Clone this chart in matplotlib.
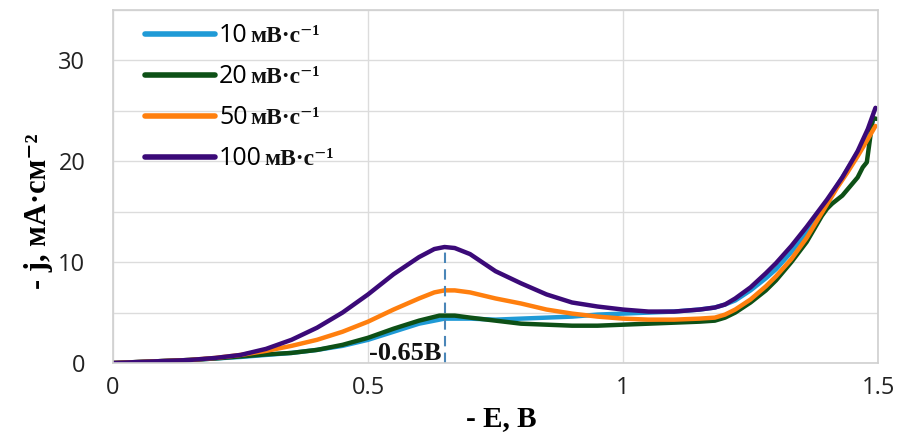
import matplotlib
matplotlib.use("Agg")
import matplotlib.pyplot as plt

# scan rates (legend numbers) and unit suffix
rates = ["10", "20", "50", "100"]
unit = "мВ·с⁻¹"
colors = ["#1f9ad6", "#0d5016", "#ff7f0e", "#3b0a78"]

# 10 mV/s
e_10 = [0, 0.05, 0.1, 0.15, 0.2, 0.25, 0.3, 0.35, 0.4, 0.45, 0.5, 0.55, 0.6, 0.65,
        0.7, 0.75, 0.8, 0.85, 0.9, 0.95, 1.0, 1.05, 1.1, 1.15, 1.18, 1.2, 1.22,
        1.25, 1.28, 1.3, 1.33, 1.36, 1.39, 1.42, 1.45, 1.47, 1.49]
j_10 = [0, 0.1, 0.2, 0.3, 0.45, 0.6, 0.8, 1.0, 1.3, 1.7, 2.3, 3.1, 3.9, 4.4,
        4.4, 4.3, 4.4, 4.5, 4.6, 4.8, 4.9, 5.0, 5.1, 5.3, 5.5, 5.8, 6.2,
        7.2, 8.4, 9.3, 11.0, 13.0, 15.2, 17.6, 20.0, 21.8, 24.0]

# 20 mV/s
e_20 = [0, 0.05, 0.1, 0.15, 0.2, 0.25, 0.3, 0.35, 0.4, 0.45, 0.5, 0.55, 0.6, 0.64,
        0.67, 0.7, 0.75, 0.8, 0.85, 0.9, 0.95, 1.0, 1.05, 1.1, 1.15, 1.18, 1.2,
        1.22, 1.25, 1.28, 1.3, 1.33, 1.36, 1.39, 1.40, 1.41, 1.42, 1.43, 1.44,
        1.45, 1.46, 1.47, 1.478, 1.485, 1.49, 1.497]
j_20 = [0, 0.1, 0.2, 0.3, 0.45, 0.65, 0.85, 1.0, 1.3, 1.8, 2.5, 3.4, 4.2, 4.7,
        4.7, 4.5, 4.2, 3.9, 3.8, 3.7, 3.7, 3.8, 3.9, 4.0, 4.1, 4.2, 4.5,
        5.0, 6.0, 7.2, 8.2, 10.0, 12.0, 14.6, 15.3, 15.8, 16.2, 16.6, 17.2,
        17.8, 18.4, 19.4, 19.9, 22.5, 24.3, 24.2]

# 50 mV/s
e_50 = [0, 0.05, 0.1, 0.15, 0.2, 0.25, 0.3, 0.35, 0.4, 0.45, 0.5, 0.55, 0.6, 0.63,
        0.65, 0.67, 0.7, 0.75, 0.8, 0.85, 0.9, 0.95, 1.0, 1.05, 1.1, 1.15, 1.18,
        1.2, 1.22, 1.25, 1.28, 1.3, 1.33, 1.36, 1.39, 1.42, 1.44, 1.46, 1.48, 1.495]
j_50 = [0, 0.1, 0.2, 0.3, 0.5, 0.8, 1.2, 1.7, 2.3, 3.1, 4.1, 5.3, 6.4, 7.0,
        7.2, 7.2, 7.0, 6.4, 5.9, 5.3, 4.9, 4.6, 4.4, 4.3, 4.3, 4.4, 4.5,
        4.8, 5.3, 6.3, 7.6, 8.6, 10.3, 12.4, 14.9, 17.4, 18.9, 20.5, 22.2, 23.5]

# 100 mV/s
e_100 = [0, 0.05, 0.1, 0.15, 0.2, 0.25, 0.3, 0.35, 0.4, 0.45, 0.5, 0.55, 0.6, 0.63,
         0.65, 0.67, 0.7, 0.75, 0.8, 0.85, 0.9, 0.95, 1.0, 1.05, 1.1, 1.15, 1.18,
         1.2, 1.22, 1.25, 1.28, 1.3, 1.33, 1.36, 1.4, 1.43, 1.46, 1.48, 1.495]
j_100 = [0, 0.1, 0.2, 0.3, 0.5, 0.8, 1.4, 2.3, 3.5, 5.0, 6.8, 8.8, 10.5, 11.3,
         11.5, 11.4, 10.8, 9.1, 7.9, 6.8, 6.0, 5.6, 5.3, 5.1, 5.1, 5.3, 5.5,
         5.8, 6.4, 7.5, 8.9, 9.9, 11.6, 13.5, 16.2, 18.4, 21.0, 23.2, 25.3]

peak_e = 0.65
peak_j = 11.5
peak_label = "-0.65В"

x_ticks = [0, 0.5, 1, 1.5]
x_ticklabels = ["0", "0.5", "1", "1.5"]
y_ticks = [0, 10, 20, 30]

SANS = ["Open Sans", "DejaVu Sans"]
SERIF = ["Liberation Serif", "DejaVu Serif"]

fig = plt.figure(figsize=(9.05, 4.32), dpi=100)
ax = fig.add_axes([0.1249, 0.1597, 0.8453, 0.8172])

series = [(e_10, j_10), (e_20, j_20), (e_50, j_50), (e_100, j_100)]
for (e, j), c, r in zip(series, colors, rates):
    ax.plot(e, j, color=c, lw=3.2, solid_capstyle="round", label=r)

ax.plot([peak_e, peak_e], [0, peak_j], color="#4a86b8", lw=1.5, ls=(0, (5, 3)))
ax.text(peak_e - 0.006, 0.9, peak_label, ha="right", va="center",
        fontsize=19, fontweight="bold", family=SERIF, color="#111111")

ax.set_xlim(0, 1.5)
ax.set_ylim(0, 35)
ax.set_xticks(x_ticks)
ax.set_xticklabels(x_ticklabels)
ax.set_yticks(y_ticks)
ax.set_yticks([5, 15, 25, 35], minor=True)
ax.tick_params(axis="both", which="both", length=0, labelsize=17, colors="#222222")
ax.tick_params(axis="x", pad=9)
ax.tick_params(axis="y", pad=20)
for lab in ax.get_xticklabels() + ax.get_yticklabels():
    lab.set_family(SANS)

ax.grid(True, which="both", color="#dcdcdc", lw=1.0)
ax.set_axisbelow(True)
for s in ax.spines.values():
    s.set_color("#d0d0d0")
    s.set_linewidth(1.2)

ax.set_xlabel("- E, В", fontsize=21, fontweight="bold", family=SERIF)
ax.xaxis.set_label_coords(0.508, -0.118)
ax.set_ylabel("- j, мА·см⁻²", fontsize=22, fontweight="bold", family=SERIF)
ax.yaxis.set_label_coords(-0.079, 0.43)

leg = ax.legend(loc="upper left", bbox_to_anchor=(0.042, 0.962), frameon=False,
                prop={"family": SANS, "size": 18}, handlelength=2.8,
                handletextpad=0.15, labelspacing=0.64, borderpad=0, borderaxespad=0)
for line in leg.get_lines():
    line.set_linewidth(4)

# unit suffix in serif next to each legend number
fig.canvas.draw()
renderer = fig.canvas.get_renderer()
inv = fig.transFigure.inverted()
for t in leg.get_texts():
    bb = t.get_window_extent(renderer)
    x0, y0 = inv.transform((bb.x1 + 3, (bb.y0 + bb.y1) / 2 - 1))
    fig.text(x0, y0, unit, ha="left", va="center", fontsize=17,
             fontweight="bold", family=SERIF, color="#111111")

fig.savefig("out.png", dpi=100)
